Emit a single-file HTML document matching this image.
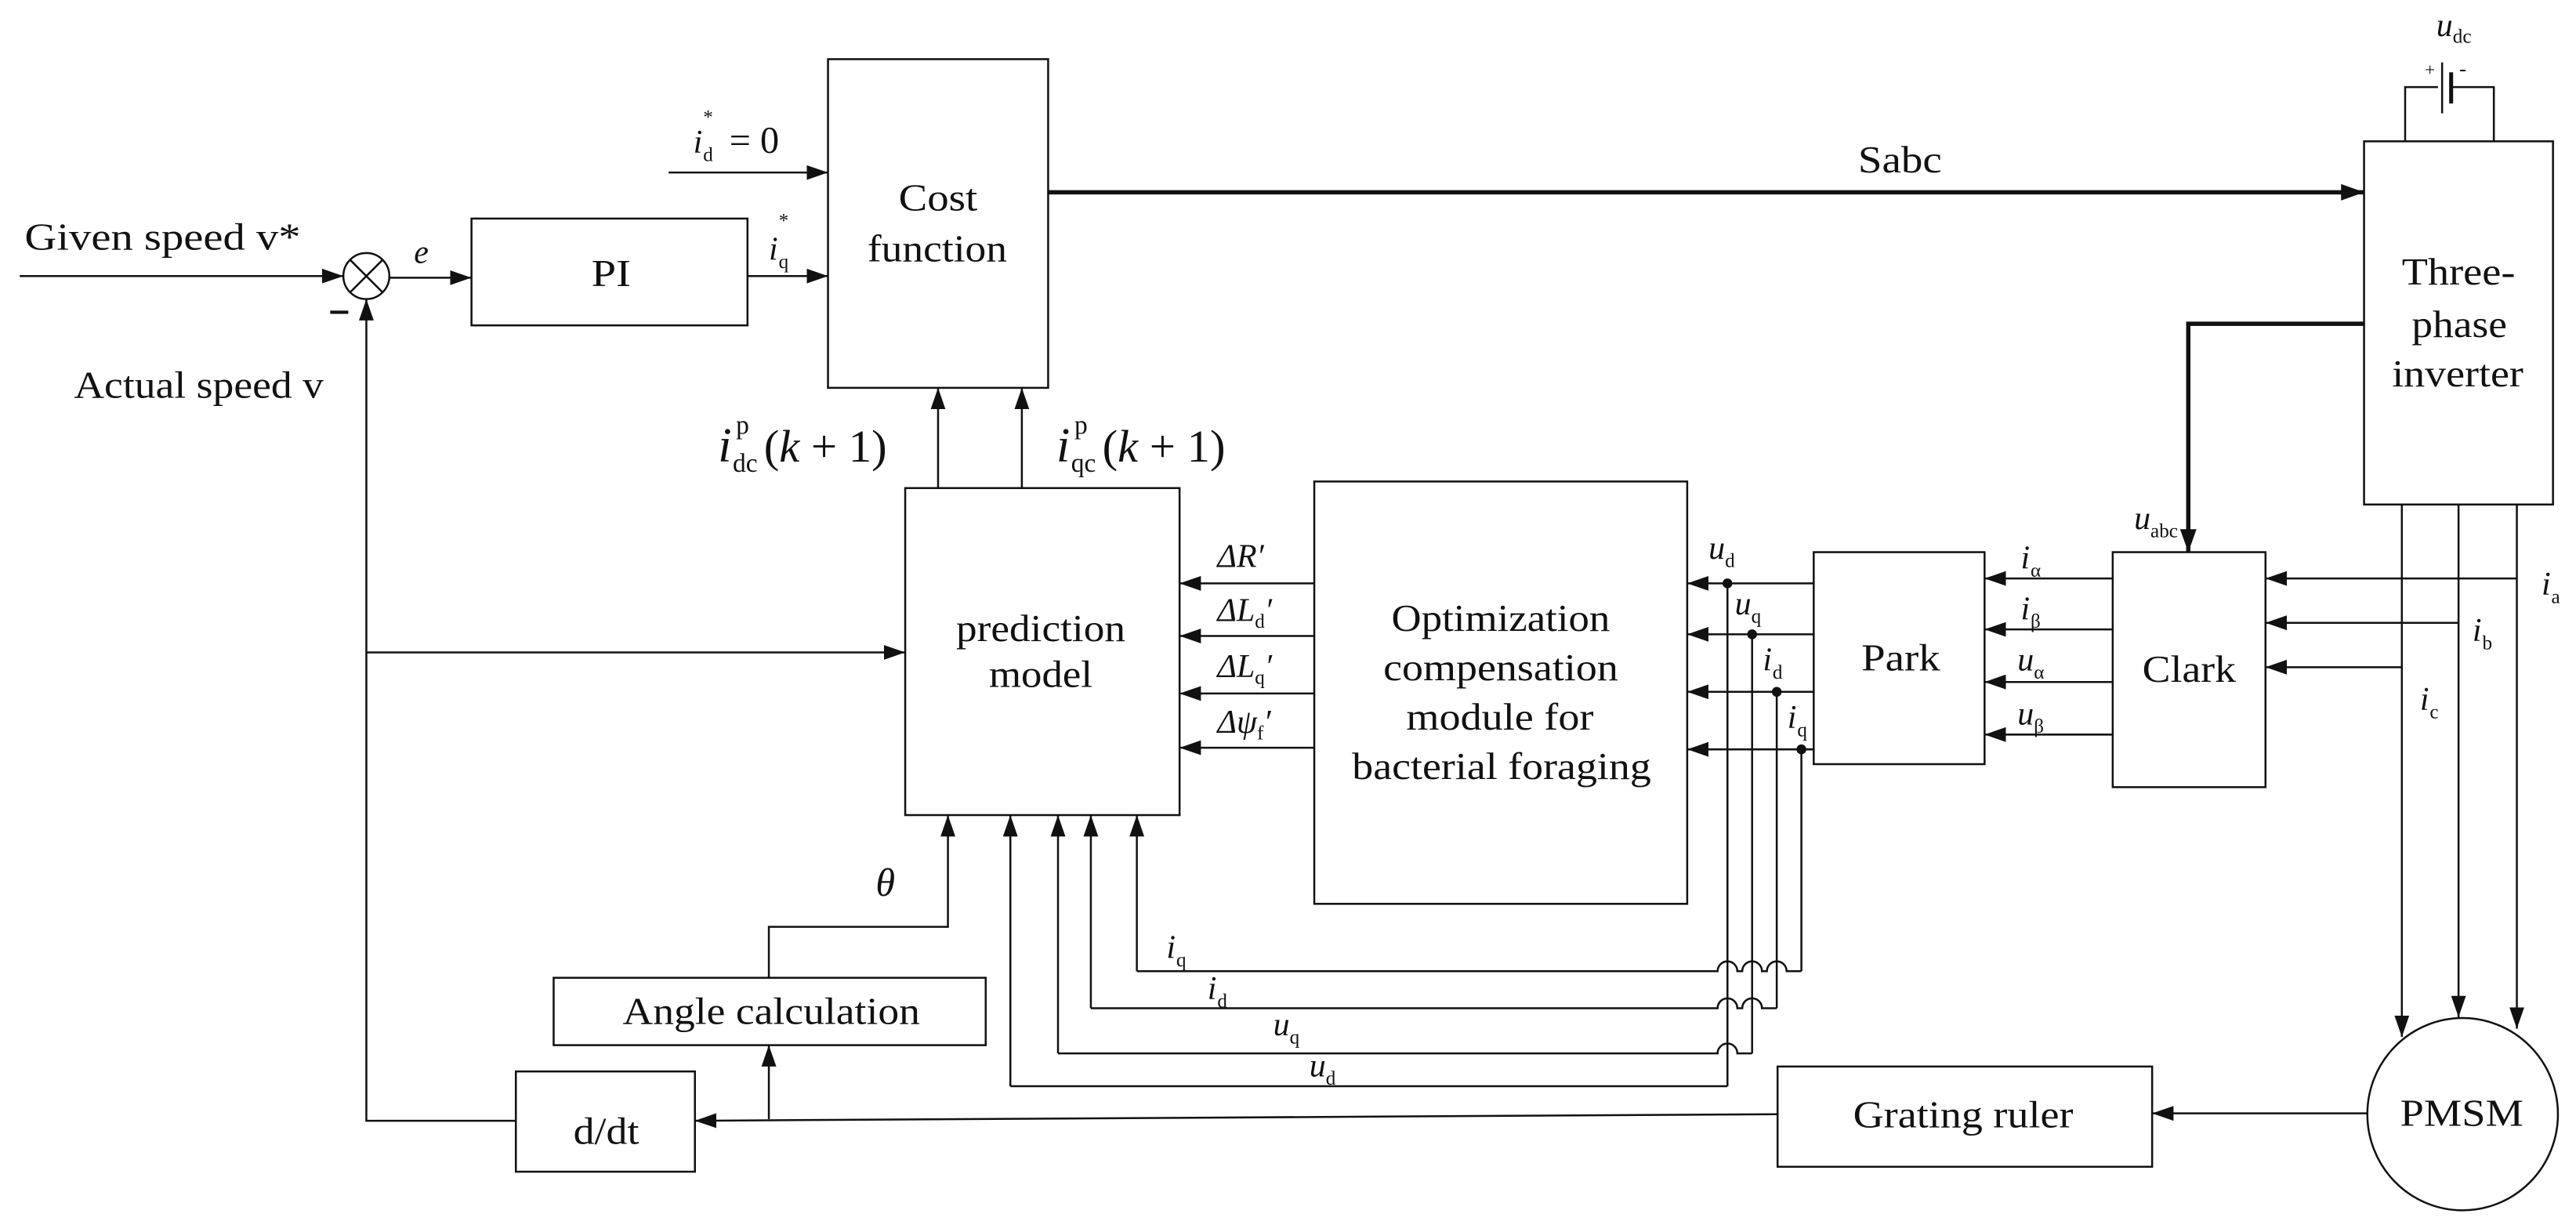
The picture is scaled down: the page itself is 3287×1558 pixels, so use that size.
<!DOCTYPE html>
<html><head><meta charset="utf-8"><style>
html,body{margin:0;padding:0;background:#fff;}
svg{display:block;}
text{font-family:"Liberation Serif","DejaVu Serif",serif;fill:#111;}
.t{font-size:23px;}
.m{font-size:20px;font-style:italic;}
.s{font-size:12px;font-style:normal;}
</style></head><body>
<svg width="3287" height="1558" viewBox="0 0 1568 743" preserveAspectRatio="none" xmlns="http://www.w3.org/2000/svg">
<defs>
<marker id="a" markerUnits="userSpaceOnUse" markerWidth="13" markerHeight="10" refX="13" refY="5" orient="auto"><path d="M0,0.5 L13,5 L0,9.5 z" fill="#111"/></marker>
<marker id="b" markerUnits="userSpaceOnUse" markerWidth="14" markerHeight="11" refX="14" refY="5.5" orient="auto"><path d="M0,0.5 L14,5.5 L0,10.5 z" fill="#111"/></marker>
</defs>
<g fill="none" stroke="#111" stroke-width="1.2">
<rect x="504" y="36" width="134" height="200"/>
<rect x="287" y="133" width="168" height="65"/>
<rect x="551" y="297" width="167" height="199"/>
<rect x="800" y="293" width="227" height="257"/>
<rect x="1104" y="336" width="104" height="129"/>
<rect x="1286" y="336" width="93" height="143"/>
<rect x="1439" y="86" width="115" height="221"/>
<rect x="337" y="595" width="263" height="41"/>
<rect x="314" y="652" width="109" height="61"/>
<rect x="1082" y="649" width="228" height="61"/>
<ellipse cx="1499" cy="678" rx="58" ry="58.5"/>
<circle cx="223" cy="168" r="14"/>
<line x1="213" y1="158" x2="233" y2="178"/><line x1="233" y1="158" x2="213" y2="178"/>
<line x1="12" y1="168" x2="209" y2="168" marker-end="url(#a)"/>
<line x1="237" y1="169" x2="287" y2="169" marker-end="url(#a)"/>
<line x1="455" y1="168" x2="504" y2="168" marker-end="url(#a)"/>
<line x1="407" y1="105" x2="504" y2="105" marker-end="url(#a)"/>
<polyline points="314,682 223,682 223,182" marker-end="url(#a)"/>
<line x1="223" y1="397" x2="551" y2="397" marker-end="url(#a)"/>
<line x1="571" y1="297" x2="571" y2="236" marker-end="url(#a)"/>
<line x1="622" y1="297" x2="622" y2="236" marker-end="url(#a)"/>
<line x1="638" y1="117" x2="1439" y2="117" stroke-width="2.6" marker-end="url(#b)"/>
<polyline points="1439,197 1332,197 1332,336" stroke-width="2.6" marker-end="url(#b)"/>
<polyline points="1464,86 1464,53 1484,53"/>
<polyline points="1518,86 1518,53 1493,53"/>
<line x1="1486.5" y1="38" x2="1486.5" y2="69"/>
<line x1="1492" y1="44" x2="1492" y2="63" stroke-width="2.4"/>
<line x1="800" y1="355" x2="718" y2="355" marker-end="url(#a)"/>
<line x1="800" y1="387" x2="718" y2="387" marker-end="url(#a)"/>
<line x1="800" y1="422" x2="718" y2="422" marker-end="url(#a)"/>
<line x1="800" y1="455" x2="718" y2="455" marker-end="url(#a)"/>
<line x1="1104" y1="355" x2="1027" y2="355" marker-end="url(#a)"/>
<line x1="1104" y1="386" x2="1027" y2="386" marker-end="url(#a)"/>
<line x1="1104" y1="421" x2="1027" y2="421" marker-end="url(#a)"/>
<line x1="1104" y1="456" x2="1027" y2="456" marker-end="url(#a)"/>
<line x1="1286" y1="352" x2="1208" y2="352" marker-end="url(#a)"/>
<line x1="1286" y1="383" x2="1208" y2="383" marker-end="url(#a)"/>
<line x1="1286" y1="415" x2="1208" y2="415" marker-end="url(#a)"/>
<line x1="1286" y1="447" x2="1208" y2="447" marker-end="url(#a)"/>
<line x1="1532" y1="307" x2="1532" y2="626" marker-end="url(#a)"/>
<line x1="1496.5" y1="307" x2="1496.5" y2="619" marker-end="url(#a)"/>
<line x1="1462" y1="307" x2="1462" y2="631" marker-end="url(#a)"/>
<line x1="1532" y1="352" x2="1379" y2="352" marker-end="url(#a)"/>
<line x1="1496.5" y1="379" x2="1379" y2="379" marker-end="url(#a)"/>
<line x1="1462" y1="406" x2="1379" y2="406" marker-end="url(#a)"/>
<line x1="1441" y1="677.5" x2="1310" y2="677.5" marker-end="url(#a)"/>
<line x1="1082" y1="678" x2="423" y2="682" marker-end="url(#a)"/>
<line x1="468" y1="681" x2="468" y2="636" marker-end="url(#a)"/>
<polyline points="468,595 468,564 577,564 577,496" marker-end="url(#a)"/>
<line x1="1051.5" y1="355" x2="1051.5" y2="661"/>
<line x1="1066.5" y1="386" x2="1066.5" y2="641"/>
<line x1="1081.5" y1="421" x2="1081.5" y2="613.5"/>
<line x1="1096.5" y1="456" x2="1096.5" y2="591"/>
<path d="M692,591 L1045.5,591 A6,6 0 0 1 1057.5,591 L1060.5,591 A6,6 0 0 1 1072.5,591 L1075.5,591 A6,6 0 0 1 1087.5,591 L1096.5,591"/>
<path d="M664,613.5 L1045.5,613.5 A6,6 0 0 1 1057.5,613.5 L1060.5,613.5 A6,6 0 0 1 1072.5,613.5 L1081.5,613.5"/>
<path d="M644,641 L1045.5,641 A6,6 0 0 1 1057.5,641 L1066.5,641"/>
<line x1="615" y1="661" x2="1051.5" y2="661"/>
<line x1="692" y1="591" x2="692" y2="496" marker-end="url(#a)"/>
<line x1="664" y1="613.5" x2="664" y2="496" marker-end="url(#a)"/>
<line x1="644" y1="641" x2="644" y2="496" marker-end="url(#a)"/>
<line x1="615" y1="661" x2="615" y2="496" marker-end="url(#a)"/>
</g>
<g fill="#111">
<circle cx="1051.5" cy="355" r="3"/><circle cx="1066.5" cy="386" r="3"/>
<circle cx="1081.5" cy="421" r="3"/><circle cx="1096.5" cy="456" r="3"/>
<rect x="201" y="189" width="11" height="2"/>
</g>
<text class="t" x="15" y="152" textLength="168" lengthAdjust="spacingAndGlyphs">Given speed  v*</text>
<text class="t" x="45" y="242" textLength="152" lengthAdjust="spacingAndGlyphs">Actual speed v</text>
<text class="m" x="252" y="160">e</text>
<text class="t" x="360" y="174" textLength="24" lengthAdjust="spacingAndGlyphs">PI</text>
<text class="t" x="547" y="128" textLength="48" lengthAdjust="spacingAndGlyphs">Cost</text>
<text class="t" x="528" y="159" textLength="85" lengthAdjust="spacingAndGlyphs">function</text>
<text class="m" x="468" y="158">i</text><text class="s" x="474" y="138">*</text><text class="s" x="474" y="163">q</text>
<text class="m" x="422" y="93">i</text><text class="s" x="428" y="75">*</text><text class="s" x="428" y="98">d</text><text class="t" x="444" y="93">= 0</text>
<text class="t" x="1131" y="105" textLength="51" lengthAdjust="spacingAndGlyphs">Sabc</text>
<text class="m" x="1483" y="22">u</text><text class="s" x="1493" y="26">dc</text>
<text x="1476" y="46" style="font-size:11px">+</text><text x="1497" y="46" style="font-size:13px">-</text>
<text class="t" x="1462" y="173" textLength="69" lengthAdjust="spacingAndGlyphs">Three-</text>
<text class="t" x="1468" y="205" textLength="58" lengthAdjust="spacingAndGlyphs">phase</text>
<text class="t" x="1456" y="235" textLength="80" lengthAdjust="spacingAndGlyphs">inverter</text>
<text x="437" y="281" style="font-size:30px;font-style:italic">i</text><text x="448" y="264" style="font-size:16px">p</text><text x="446" y="287" style="font-size:16px">dc</text><text x="465" y="281" style="font-size:28px">(<tspan font-style="italic">k</tspan> + 1)</text>
<text x="643" y="281" style="font-size:30px;font-style:italic">i</text><text x="654" y="264" style="font-size:16px">p</text><text x="652" y="287" style="font-size:16px">qc</text><text x="671" y="281" style="font-size:28px">(<tspan font-style="italic">k</tspan> + 1)</text>
<text class="t" x="582" y="390" textLength="103" lengthAdjust="spacingAndGlyphs">prediction</text>
<text class="t" x="602" y="418" textLength="63" lengthAdjust="spacingAndGlyphs">model</text>
<text class="m" x="741" y="345">ΔR′</text>
<text class="m" x="741" y="378">ΔL<tspan class="s" font-style="italic" dy="4">d</tspan><tspan dy="-4">′</tspan></text>
<text class="m" x="741" y="412">ΔL<tspan class="s" font-style="italic" dy="4">q</tspan><tspan dy="-4">′</tspan></text>
<text class="m" x="741" y="446">Δψ<tspan class="s" font-style="italic" dy="4">f</tspan><tspan dy="-4">′</tspan></text>
<text class="t" x="847" y="384" textLength="133" lengthAdjust="spacingAndGlyphs">Optimization</text>
<text class="t" x="842" y="414" textLength="143" lengthAdjust="spacingAndGlyphs">compensation</text>
<text class="t" x="856" y="444" textLength="114" lengthAdjust="spacingAndGlyphs">module for</text>
<text class="t" x="823" y="474" textLength="182" lengthAdjust="spacingAndGlyphs">bacterial foraging</text>
<text class="m" x="1040" y="340">u</text><text class="s" x="1050" y="345">d</text>
<text class="m" x="1056" y="374">u</text><text class="s" x="1066" y="379">q</text>
<text class="m" x="1073" y="408">i</text><text class="s" x="1079" y="413">d</text>
<text class="m" x="1088" y="443">i</text><text class="s" x="1094" y="448">q</text>
<text class="t" x="1133" y="408" textLength="48" lengthAdjust="spacingAndGlyphs">Park</text>
<text class="t" x="1304" y="415" textLength="57" lengthAdjust="spacingAndGlyphs">Clark</text>
<text class="m" x="1299" y="322">u</text><text class="s" x="1309" y="327" font-style="italic">abc</text>
<text class="m" x="1230" y="346">i</text><text class="s" x="1236" y="351" font-style="italic">α</text>
<text class="m" x="1230" y="377">i</text><text class="s" x="1236" y="382" font-style="italic">β</text>
<text class="m" x="1228" y="408">u</text><text class="s" x="1238" y="413" font-style="italic">α</text>
<text class="m" x="1228" y="441">u</text><text class="s" x="1238" y="446" font-style="italic">β</text>
<text class="m" x="1547" y="362">i</text><text class="s" x="1553" y="367" font-style="italic">a</text>
<text class="m" x="1505" y="390">i</text><text class="s" x="1511" y="395" font-style="italic">b</text>
<text class="m" x="1473" y="432">i</text><text class="s" x="1479" y="437" font-style="italic">c</text>
<text class="t" x="1461" y="685" textLength="75" lengthAdjust="spacingAndGlyphs">PMSM</text>
<text class="t" x="1128" y="686" textLength="134" lengthAdjust="spacingAndGlyphs">Grating ruler</text>
<text class="t" x="379" y="623" textLength="181" lengthAdjust="spacingAndGlyphs">Angle calculation</text>
<text class="t" x="349" y="696" textLength="40" lengthAdjust="spacingAndGlyphs">d/dt</text>
<text class="m" x="533" y="545" style="font-size:24px">θ</text>
<text class="m" x="710" y="583">i</text><text class="s" x="716" y="588">q</text>
<text class="m" x="735" y="608">i</text><text class="s" x="741" y="613">d</text>
<text class="m" x="775" y="630">u</text><text class="s" x="785" y="635">q</text>
<text class="m" x="797" y="655">u</text><text class="s" x="807" y="660">d</text>
</svg>
</body></html>
